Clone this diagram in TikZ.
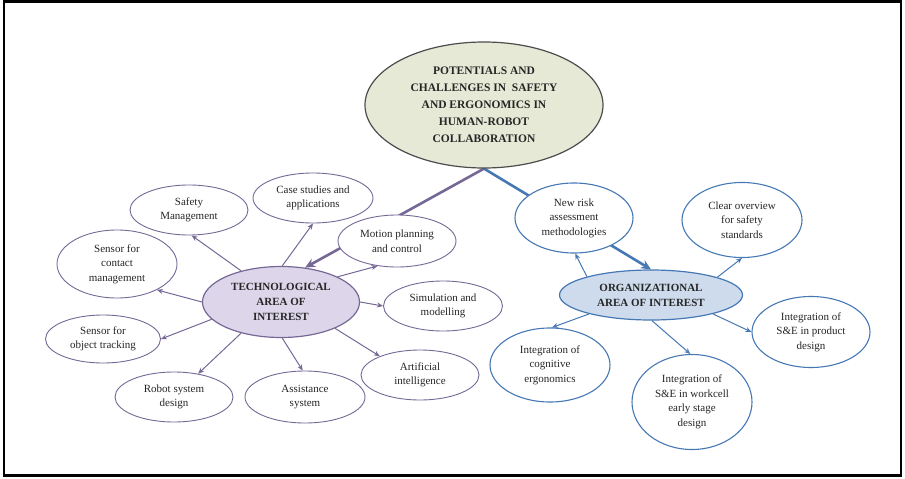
\documentclass[tikz,border=0pt]{standalone}
\usepackage{fontspec}
\setmainfont{Liberation Serif}
\usetikzlibrary{shapes.geometric,arrows.meta,backgrounds}

\definecolor{titlefill}{RGB}{229,233,214}
\definecolor{techfill}{RGB}{221,214,234}
\definecolor{techline}{RGB}{118,104,150}
\definecolor{orgfill}{RGB}{205,219,236}
\definecolor{orgline}{RGB}{70,120,180}

\tikzset{
  bubble/.style={ellipse,draw,fill=white,inner sep=0pt,align=center,text=black!85,
    font=\fontsize{11}{14.5}\selectfont},
  techleaf/.style={bubble,draw=techline,line width=0.9pt,minimum width=118pt,minimum height=50pt},
  orgleaf/.style={bubble,draw=orgline,line width=1.1pt,minimum width=120pt},
  hub/.style={bubble,line width=1.2pt,font=\bfseries\fontsize{11}{15}\selectfont},
  techarrow/.style={draw=techline,line width=1pt,-{Stealth[length=6pt,width=5pt]}},
  orgarrow/.style={draw=orgline,line width=1pt,-{Stealth[length=6pt,width=5pt]}},
  mainarrow/.style={line width=2.6pt,-{Stealth[length=10pt,width=9pt]}}
}

\begin{document}
\begin{tikzpicture}[x=1pt,y=-1pt]
    \useasboundingbox (0,0) rectangle (905,479);
    \draw[line width=2.5pt] (4,1.5) rectangle (901,475.5);

    \node[hub,draw=black!70,fill=titlefill,minimum width=238pt,minimum height=126pt,
      font=\bfseries\fontsize{11.5}{17}\selectfont] (main) at (484,105)
      {POTENTIALS AND\\CHALLENGES IN\ \ SAFETY\\AND ERGONOMICS IN\\HUMAN-ROBOT\\COLLABORATION};

    \node[hub,draw=techline,fill=techfill,minimum width=157pt,minimum height=71pt] (tech) at (281,302) {TECHNOLOGICAL\\AREA OF\\INTEREST};
    \node[hub,draw=orgline,fill=orgfill,minimum width=183pt,minimum height=50pt] (org) at (651,295) {ORGANIZATIONAL\\AREA OF INTEREST};

    \node[techleaf] (safety) at (189,210) {Safety\\Management};
    \node[techleaf,minimum width=120pt,minimum height=68pt] (contact) at (117,264) {Sensor for\\contact\\management};
    \node[techleaf,minimum width=120pt] (cases) at (313,198) {Case studies and\\applications};
    \node[techleaf,minimum height=52pt] (motion) at (397,241) {Motion planning\\and control};
    \node[techleaf,minimum width=119pt] (simul) at (443,306) {Simulation and\\modelling};
    \node[techleaf] (artif) at (420,375) {Artificial\\intelligence};
    \node[techleaf,minimum width=120pt,minimum height=52pt] (assist) at (305,397) {Assistance\\system};
    \node[techleaf] (robot) at (174,397) {Robot system\\design};
    \node[techleaf,minimum width=115pt,minimum height=48pt] (tracking) at (103,339) {Sensor for\\object tracking};

    \node[orgleaf,minimum width=118pt,minimum height=70pt] (risk) at (574,218) {New risk\\assessment\\methodologies};
    \node[orgleaf,minimum height=75pt] (overview) at (742,220) {Clear overview\\for safety\\standards};
    \node[orgleaf,minimum width=118pt,minimum height=71pt] (product) at (811,332) {Integration of\\S\&E in product\\design};
    \node[orgleaf,minimum height=74pt] (cognitive) at (550,365) {Integration of\\cognitive\\ergonomics};
    \node[orgleaf,minimum height=95pt] (workcell) at (692,402) {Integration of\\S\&E in workcell\\early stage\\design};

    \begin{scope}[on background layer]
        \draw[mainarrow,techline] (main.-90) -- (tech.55);
        \draw[mainarrow,orgline] (main.-90) -- (org.north);

        \draw[techarrow] (tech.142) -- (safety.-84);
        \draw[techarrow] (tech.88) -- (cases.-90);
        \draw[techarrow] (tech.24) -- (motion.-128);
        \draw[techarrow] (tech.0) -- (simul.180);
        \draw[techarrow] (tech.-26) -- (artif.155);
        \draw[techarrow] (tech.-88) -- (assist.95);
        \draw[techarrow] (tech.-142) -- (robot.44);
        \draw[techarrow] (tech.-166) -- (tracking.0);
        \draw[techarrow] (tech.180) -- (contact.-33);

        \draw[orgarrow] (org.164) -- (risk.-88);
        \draw[orgarrow] (org.15) -- (overview.-90);
        \draw[orgarrow] (org.-17) -- (product.180);
        \draw[orgarrow] (org.-88) -- (workcell.92);
        \draw[orgarrow] (org.-163) -- (cognitive.87);
    \end{scope}
\end{tikzpicture}
\end{document}
